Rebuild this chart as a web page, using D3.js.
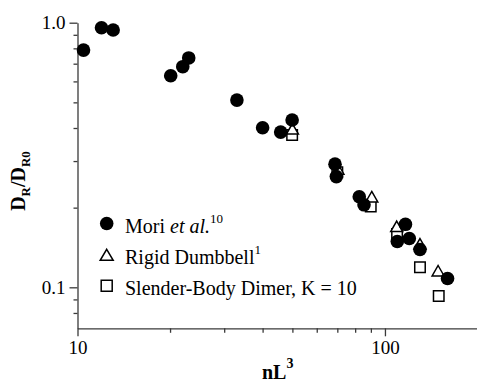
<!DOCTYPE html>
<html>
<head>
<meta charset="utf-8">
<script src="https://cdn.jsdelivr.net/npm/d3@7"></script>
<style>
  html, body { margin: 0; padding: 0; background: #fff; }
  svg { display: block; }
  text { font-family: "Liberation Serif", "Times New Roman", serif; fill: #000; }
</style>
</head>
<body>
<svg id="chart" width="477" height="383"></svg>
<script>
// Mori et al. measurements (filled circles)
const moriX = [10.46, 11.97, 13.06, 20.1, 22.0, 23.0, 33.0, 40.0, 45.8, 49.9, 68.8, 69.5, 82.5, 85.5, 109.7, 116.6, 120.0, 130.0, 159.8];
const moriY = [0.788, 0.957, 0.938, 0.630, 0.682, 0.736, 0.510, 0.401, 0.386, 0.429, 0.292, 0.262, 0.220, 0.205, 0.149, 0.173, 0.153, 0.139, 0.108];

// Rigid dumbbell model (open triangles)
const dumbbellX = [50.0, 70.3, 90.6, 109.2, 130.0, 148.9];
const dumbbellY = [0.397, 0.280, 0.220, 0.170, 0.146, 0.1155];

// Slender-body dimer, K = 10 (open squares)
const dimerX = [49.9, 70.0, 89.9, 109.5, 130.0, 149.6];
const dimerY = [0.376, 0.272, 0.202, 0.159, 0.119, 0.0927];

// Axis ticks
const xMajor = [10, 100];
const xMinor = [20, 30, 40, 50, 60, 70, 80, 90];
const yMajor = [0.1, 1.0];
const yMinor = [0.08, 0.09, 0.2, 0.3, 0.4, 0.5, 0.6, 0.7, 0.8, 0.9];
const yTickLabels = ["0.1", "1.0"];

const svg = d3.select("#chart");
const plotLeft = 77.5, plotRight = 477.5, plotTop = 22.7, plotBottom = 328.3;
const axisColor = "#3a3a3a";

const x = d3.scaleLog().domain([10, 200]).range([plotLeft, plotRight]);
const y = d3.scaleLog().domain([0.07, 1.0]).range([plotBottom, plotTop]);

function styleAxis(g) {
  g.selectAll("path, line").attr("stroke", axisColor).attr("stroke-width", 1.3);
  g.selectAll("text")
    .style("font-family", '"Liberation Serif", "Times New Roman", serif')
    .style("font-size", "19px")
    .attr("fill", "#000");
}

// x axis: minor ticks, then major ticks with labels
svg.append("g")
  .attr("transform", `translate(0,${plotBottom})`)
  .call(d3.axisBottom(x).tickValues(xMinor).tickSize(4.5).tickSizeOuter(0).tickFormat(""))
  .call(styleAxis);
svg.append("g")
  .attr("transform", `translate(0,${plotBottom})`)
  .call(d3.axisBottom(x).tickValues(xMajor).tickSize(8).tickSizeOuter(0)
        .tickPadding(4).tickFormat(d3.format("d")))
  .call(styleAxis)
  .call(g => g.select(".domain").remove());

// y axis
svg.append("g")
  .attr("transform", `translate(${plotLeft},0)`)
  .call(d3.axisLeft(y).tickValues(yMinor).tickSize(4).tickSizeOuter(0).tickFormat(""))
  .call(styleAxis);
svg.append("g")
  .attr("transform", `translate(${plotLeft},0)`)
  .call(d3.axisLeft(y).tickValues(yMajor).tickSize(8).tickSizeOuter(0)
        .tickPadding(4).tickFormat((d, i) => yTickLabels[i]))
  .call(styleAxis)
  .call(g => g.select(".domain").remove());

// Marker shapes
const triPath = (w, h) => `M0,${-h / 2}L${w / 2},${h / 2}L${-w / 2},${h / 2}Z`;
const sqPath = s => `M${-s / 2},${-s / 2}h${s}v${s}h${-s}Z`;

const plot = svg.append("g");

plot.selectAll("path.dimer")
  .data(d3.zip(dimerX, dimerY))
  .join("path")
  .attr("class", "dimer")
  .attr("d", sqPath(10.5))
  .attr("transform", d => `translate(${x(d[0])},${y(d[1])})`)
  .attr("fill", "#fff").attr("stroke", "#000").attr("stroke-width", 1.5);

plot.selectAll("path.dumbbell")
  .data(d3.zip(dumbbellX, dumbbellY))
  .join("path")
  .attr("class", "dumbbell")
  .attr("d", triPath(12, 10.5))
  .attr("transform", d => `translate(${x(d[0])},${y(d[1])})`)
  .attr("fill", "#fff").attr("stroke", "#000").attr("stroke-width", 1.5)
  .attr("stroke-linejoin", "miter");

plot.selectAll("circle.mori")
  .data(d3.zip(moriX, moriY))
  .join("circle")
  .attr("class", "mori")
  .attr("cx", d => x(d[0]))
  .attr("cy", d => y(d[1]))
  .attr("r", 6.8)
  .attr("fill", "#000");

// Legend
const legend = svg.append("g");
const lgX = 106.7, lgTextX = 125;
const rows = [223.5, 254.8, 285.8];

legend.append("circle").attr("cx", lgX).attr("cy", rows[0]).attr("r", 6.8).attr("fill", "#000");
legend.append("path").attr("d", triPath(13, 11)).attr("transform", `translate(${lgX},${rows[1]})`)
  .attr("fill", "#fff").attr("stroke", "#000").attr("stroke-width", 1.5);
legend.append("path").attr("d", sqPath(11)).attr("transform", `translate(${lgX},${rows[2]})`)
  .attr("fill", "#fff").attr("stroke", "#000").attr("stroke-width", 1.5);

const t1 = legend.append("text").attr("x", lgTextX).attr("y", rows[0] + 9.5).style("font-size", "20px");
t1.append("tspan").text("Mori ");
t1.append("tspan").style("font-style", "italic").text("et al.");
t1.append("tspan").attr("dy", -10).style("font-size", "13px").text("10");

const t2 = legend.append("text").attr("x", lgTextX).attr("y", rows[1] + 9.5).style("font-size", "20px");
t2.append("tspan").text("Rigid Dumbbell");
t2.append("tspan").attr("dy", -10).style("font-size", "13px").text("1");

legend.append("text").attr("x", lgTextX).attr("y", rows[2] + 9.5).style("font-size", "20px")
  .text("Slender-Body Dimer, K = 10");

// Axis titles
const yt = svg.append("text")
  .attr("transform", "translate(25,181) rotate(-90)")
  .attr("text-anchor", "middle")
  .style("font-size", "20px").style("font-weight", "bold");
yt.append("tspan").text("D");
yt.append("tspan").attr("dy", 5).style("font-size", "13px").text("R");
yt.append("tspan").attr("dy", -5).text("/D");
yt.append("tspan").attr("dy", 5).style("font-size", "13px").text("R0");

const xt = svg.append("text")
  .attr("x", 262).attr("y", 379)
  .style("font-size", "20px").style("font-weight", "bold");
xt.append("tspan").text("nL");
xt.append("tspan").attr("dy", -11).style("font-size", "14px").text("3");
</script>
</body>
</html>
